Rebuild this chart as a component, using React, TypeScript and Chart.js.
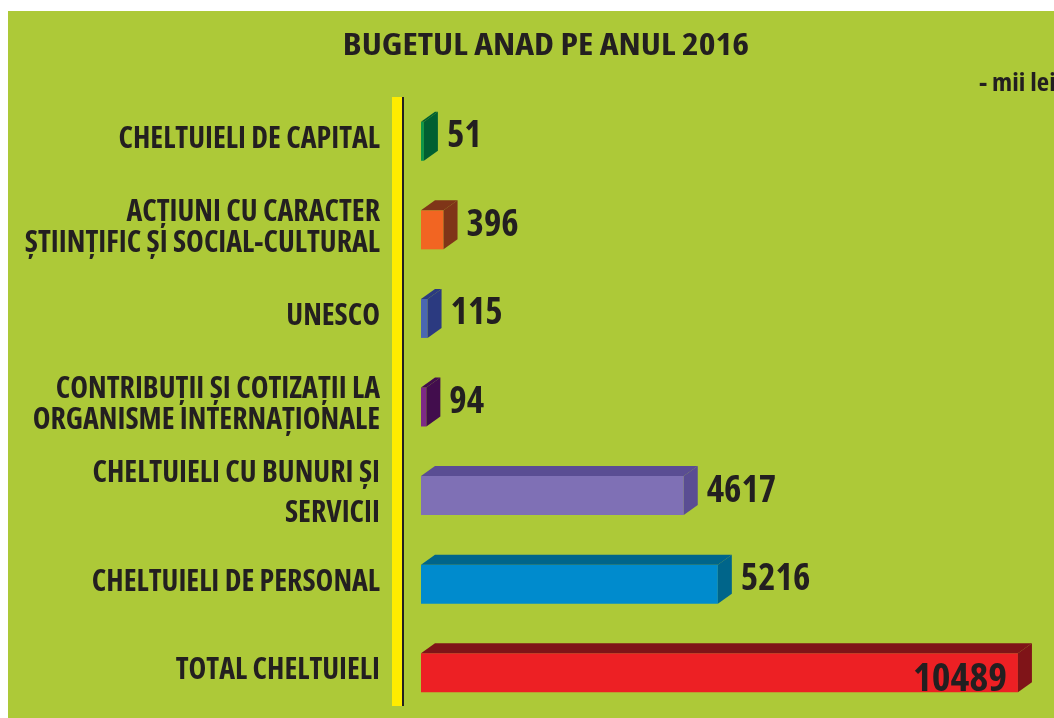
import React, { useEffect, useRef } from "react";
import { Chart, registerables } from "chart.js";

Chart.register(...registerables);

const titleText = "BUGETUL ANAD PE ANUL 2016";
const unitText = "- mii lei";

const categories: (string | string[])[] = [
  "CHELTUIELI DE CAPITAL",
  ["ACȚIUNI CU CARACTER", "ȘTIINȚIFIC ȘI SOCIAL-CULTURAL"],
  "UNESCO",
  ["CONTRIBUȚII ȘI COTIZAȚII LA", "ORGANISME INTERNAȚIONALE"],
  ["CHELTUIELI CU BUNURI ȘI", "SERVICII"],
  "CHELTUIELI DE PERSONAL",
  "TOTAL CHELTUIELI",
];

const values = [51, 396, 115, 94, 4617, 5216, 10489];

const frontColors = ["#0b9647", "#f26522", "#4a67b1", "#7d2a86", "#7f70b5", "#008bcd", "#ed2024"];
const depthColors = ["#005f31", "#7f3518", "#2b3a80", "#420d4d", "#5a4d93", "#00658a", "#7f1418"];

const FAMILY = "'Open Sans', 'DejaVu Sans Condensed', sans-serif";
const WEIGHT = "bold condensed";
const TEXT = "#231f20";
const BG = "#adc938";

const W = 1046; // visible width
const CW = 1076; // canvas width (right part clipped by the container)
const H = 707;

const DX = 14;
const DY = 10;

function scaledText(ctx: any, text: string, x: number, y: number, sx: number, align: string) {
  ctx.save();
  ctx.translate(x, y);
  ctx.scale(sx, 1);
  ctx.textAlign = align;
  ctx.textBaseline = "alphabetic";
  ctx.fillText(text, 0, 0);
  ctx.restore();
}

const bars3d = {
  id: "bars3d",
  beforeDatasetsDraw(chart: any) {
    const { ctx, chartArea } = chart;
    ctx.save();
    // axis band
    ctx.fillStyle = "#ffec00";
    ctx.fillRect(chartArea.left - 29, chartArea.top, 10, chartArea.bottom - chartArea.top - 11);
    ctx.fillStyle = TEXT;
    ctx.fillRect(chartArea.left - 19, chartArea.top, 2, chartArea.bottom - chartArea.top - 11);
    // title and unit
    ctx.fillStyle = TEXT;
    ctx.font = `${WEIGHT} 31px ${FAMILY}`;
    scaledText(ctx, titleText, chart.width / 2, 44, 1.155, "center");
    ctx.font = `${WEIGHT} 25px ${FAMILY}`;
    scaledText(ctx, unitText, 971, 80, 1.08, "left");
    ctx.restore();
  },
  afterDatasetsDraw(chart: any) {
    const { ctx } = chart;
    const meta = chart.getDatasetMeta(0);
    const max = Math.max(...values);
    ctx.save();
    meta.data.forEach((bar: any, i: number) => {
      const { x, y, base, height } = bar.getProps(["x", "y", "base", "height"], true);
      const left = Math.min(base, x);
      const right = Math.max(base, x);
      const top = y - height / 2;
      const bottom = y + height / 2;
      ctx.fillStyle = depthColors[i];
      ctx.beginPath();
      ctx.moveTo(left, top);
      ctx.lineTo(left + DX, top - DY);
      ctx.lineTo(right + DX, top - DY);
      ctx.lineTo(right, top);
      ctx.closePath();
      ctx.fill();
      ctx.beginPath();
      ctx.moveTo(right, top);
      ctx.lineTo(right + DX, top - DY);
      ctx.lineTo(right + DX, bottom - DY);
      ctx.lineTo(right, bottom);
      ctx.closePath();
      ctx.fill();

      ctx.fillStyle = TEXT;
      ctx.textBaseline = "alphabetic";
      const v = values[i];
      if (v > 0.9 * max) {
        ctx.font = `${WEIGHT} 40px ${FAMILY}`;
        ctx.textAlign = "right";
        ctx.fillText(String(v), right - 11, y + 18);
      } else {
        ctx.font = `${WEIGHT} 37px ${FAMILY}`;
        ctx.textAlign = "left";
        ctx.fillText(String(v), right + DX + 9, y + 6);
      }
    });
    ctx.restore();
  },
};

export default function App() {
  const ref = useRef<HTMLCanvasElement | null>(null);
  useEffect(() => {
    if (!ref.current) return;
    const chart = new Chart(ref.current, {
      type: "bar",
      data: {
        labels: categories,
        datasets: [
          {
            data: values,
            backgroundColor: frontColors,
            borderWidth: 0,
            barPercentage: 0.44,
            categoryPercentage: 1,
          },
        ],
      },
      options: {
        indexAxis: "y",
        animation: false,
        responsive: false,
        layout: { padding: { left: 0, right: 0, top: 86, bottom: 1 } },
        scales: {
          x: { display: false, min: 0, max: 11650 },
          y: {
            grid: { display: false, drawTicks: false },
            border: { display: false },
            afterFit: (s: any) => {
              s.width = 413;
              s.paddingTop = 0;
              s.paddingBottom = 0;
            },
            ticks: {
              color: TEXT,
              padding: 41,
              labelOffset: -2,
              font: (c: any) => ({
                family: FAMILY,
                weight: WEIGHT,
                size: 30,
                lineHeight: c.index === 4 ? 1.32 : 1.03,
              }),
            },
          },
        },
        plugins: {
          legend: { display: false },
          tooltip: { enabled: false },
          title: { display: false },
        },
      },
      plugins: [bars3d],
    });
    return () => chart.destroy();
  }, []);
  return (
    <div
      style={{
        position: "fixed",
        left: 8,
        top: 11,
        width: W,
        height: H,
        background: BG,
        overflow: "hidden",
      }}
    >
      <canvas ref={ref} width={CW} height={H} style={{ display: "block" }} />
    </div>
  );
}
